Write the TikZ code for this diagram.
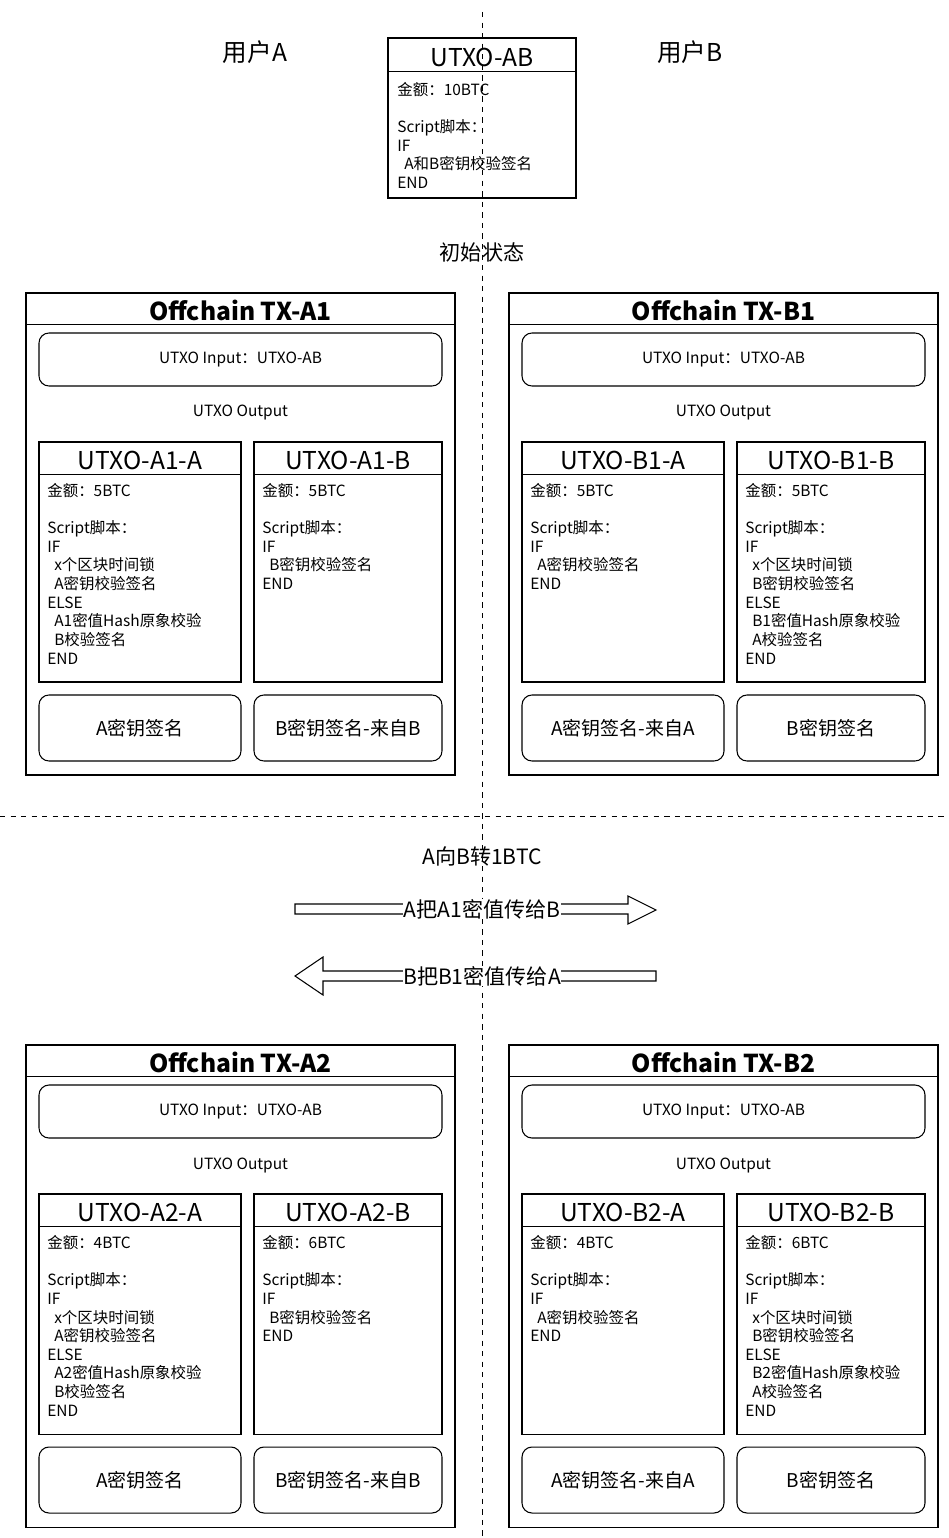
\documentclass[tikz,border=0pt]{standalone}
\usepackage{fontspec}
\setmainfont{Noto Sans CJK SC}
\tikzset{
  box/.style={draw, line width=0.6pt, inner sep=0pt},
  rbox/.style={box, rounded corners=2mm},
  body/.style={anchor=north west, align=left, inner sep=0pt, font=\fontsize{8.8}{10.6}\selectfont},
  small/.style={font=\fontsize{8.8}{10}\selectfont},
  utitle/.style={font=\fontsize{14}{15}\selectfont},
  sig/.style={font=\fontsize{10.8}{12}\selectfont},
}
% #1 name, #2 title, #3/#4 left utxo, #5/#6 right utxo, #7/#8 signatures
\newcommand\txpanel[8]{%
  \node[box, minimum width=85.8mm, minimum height=96.4mm] (#1) at (240.5,534) {};
  \draw[line width=0.6pt] ([yshift=-6.4mm]#1.north west) -- ([yshift=-6.4mm]#1.north east);
  \node[font=\bfseries\fontsize{14}{16}\selectfont] (#1t) at (240.5,310) {#2};
  \node[rbox, minimum width=80.6mm, minimum height=10.6mm, small] (#1in) at (240.5,359.5) {UTXO Input：UTXO-AB};
  \node[small] (#1out) at (240.5,413) {UTXO Output};
  % left utxo
  \node[box, minimum width=40.4mm, minimum height=48mm] (#1ua) at (140,562) {};
  \draw[line width=0.6pt] ([yshift=-6.6mm]#1ua.north west) -- ([yshift=-6.6mm]#1ua.north east);
  \node[utitle] at (140,460) {#3};
  \node[body] at (47,483) {#4};
  % right utxo
  \node[box, minimum width=37.6mm, minimum height=48mm] (#1ub) at (348,562) {};
  \draw[line width=0.6pt] ([yshift=-6.6mm]#1ub.north west) -- ([yshift=-6.6mm]#1ub.north east);
  \node[utitle] at (348,460) {#5};
  \node[body] at (262,483) {#6};
  % signatures
  \node[rbox, minimum width=40.4mm, minimum height=13.2mm, sig] (#1sa) at (140,728) {#7};
  \node[rbox, minimum width=37.6mm, minimum height=13.2mm, sig] (#1sb) at (348,728) {#8};
}
\begin{document}
\begin{tikzpicture}[x=0.2mm, y=-0.2mm]
\useasboundingbox (0,0) rectangle (948,1538);

% Dividers
\coordinate (vt) at (482,12);
\coordinate (vb) at (482,1538);
\coordinate (hl) at (0,816);
\coordinate (hr) at (948,816);
\draw[dashed, line width=0.5pt] (vt) -- (vb);
\draw[dashed, line width=0.5pt] (hl) -- (hr);

% Users and initial UTXO
\node[font=\fontsize{14}{15}\selectfont] (ua) at (255,52) {用户A};
\node[font=\fontsize{14}{15}\selectfont] (ub) at (690,52) {用户B};
\node[box, minimum width=37.6mm, minimum height=32mm] (ab) at (482,118) {};
\draw[line width=0.6pt] ([yshift=-6.8mm]ab.north west) -- ([yshift=-6.8mm]ab.north east);
\node[utitle] (abt) at (482,57) {UTXO-AB};
\node[body] (abb) at (397,82) {金额：10BTC\\ ~\\Script脚本：\\IF\\ \ \ A和B密钥校验签名\\END};
\node[font=\fontsize{12}{13}\selectfont] (init) at (482,252) {初始状态};

% Panels
\txpanel{a1}{Offchain TX-A1}{UTXO-A1-A}{金额：5BTC\\ ~\\Script脚本：\\IF\\ \ \ x个区块时间锁\\ \ \ A密钥校验签名\\ELSE\\ \ \ A1密值Hash原象校验\\ \ \ B校验签名\\END}{UTXO-A1-B}{金额：5BTC\\ ~\\Script脚本：\\IF\\ \ \ B密钥校验签名\\END}{A密钥签名}{B密钥签名-来自B}
\begin{scope}[xshift=96.6mm]
\txpanel{b1}{Offchain TX-B1}{UTXO-B1-A}{金额：5BTC\\ ~\\Script脚本：\\IF\\ \ \ A密钥校验签名\\END}{UTXO-B1-B}{金额：5BTC\\ ~\\Script脚本：\\IF\\ \ \ x个区块时间锁\\ \ \ B密钥校验签名\\ELSE\\ \ \ B1密值Hash原象校验\\ \ \ A校验签名\\END}{A密钥签名-来自A}{B密钥签名}
\end{scope}
\begin{scope}[yshift=-150.4mm]
\txpanel{a2}{Offchain TX-A2}{UTXO-A2-A}{金额：4BTC\\ ~\\Script脚本：\\IF\\ \ \ x个区块时间锁\\ \ \ A密钥校验签名\\ELSE\\ \ \ A2密值Hash原象校验\\ \ \ B校验签名\\END}{UTXO-A2-B}{金额：6BTC\\ ~\\Script脚本：\\IF\\ \ \ B密钥校验签名\\END}{A密钥签名}{B密钥签名-来自B}
\end{scope}
\begin{scope}[xshift=96.6mm, yshift=-150.4mm]
\txpanel{b2}{Offchain TX-B2}{UTXO-B2-A}{金额：4BTC\\ ~\\Script脚本：\\IF\\ \ \ A密钥校验签名\\END}{UTXO-B2-B}{金额：6BTC\\ ~\\Script脚本：\\IF\\ \ \ x个区块时间锁\\ \ \ B密钥校验签名\\ELSE\\ \ \ B2密值Hash原象校验\\ \ \ A校验签名\\END}{A密钥签名-来自A}{B密钥签名}
\end{scope}

% Transfer
\node[font=\fontsize{12}{13}\selectfont] (tr) at (482,856) {A向B转1BTC};
\draw[line width=0.6pt, fill=white] (295,904) -- (628,904) -- (628,896) -- (656,910) -- (628,924) -- (628,914) -- (295,914) -- cycle;
\node[fill=white, inner sep=0.3pt, font=\fontsize{12}{13}\selectfont] (ta) at (482,909) {A把A1密值传给B};
\draw[line width=0.6pt, fill=white] (656,971) -- (323,971) -- (323,957) -- (295,976) -- (323,995) -- (323,981) -- (656,981) -- cycle;
\node[fill=white, inner sep=0.3pt, font=\fontsize{12}{13}\selectfont] (tb) at (482,976) {B把B1密值传给A};
\end{tikzpicture}
\end{document}
